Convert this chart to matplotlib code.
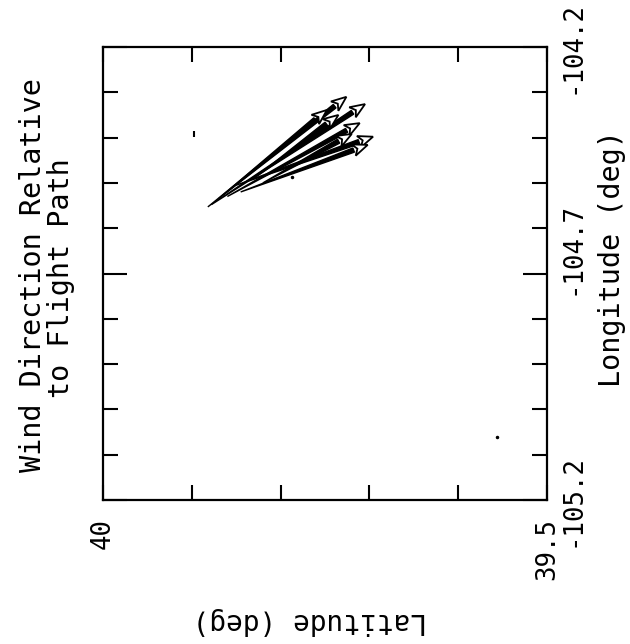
import numpy as np
import matplotlib
matplotlib.use("Agg")
import matplotlib.pyplot as plt
from matplotlib.transforms import ScaledTranslation

plt.rcParams['font.family'] = ['DejaVu Sans Mono']

# Axis ranges (chart is drawn rotated: latitude runs left->right, longitude bottom->top)
lat_range = (40.0, 39.5)
lon_range = (-105.2, -104.2)
lat_ticks = [40.0, 39.9, 39.8, 39.7, 39.6, 39.5]
lat_ticklabels = ['40', '', '', '', '', '39.5']
lon_major = [-105.2, -104.7, -104.2]
lon_majorlabels = ['-105.2', '-104.7', '-104.2']
lon_minor = [-105.1, -105.0, -104.9, -104.8, -104.6, -104.5, -104.4, -104.3]

# Wind arrows: start (lat, lon) and tip (lat, lon)
base_lat = [39.882, 39.878, 39.870, 39.860, 39.850, 39.845, 39.830, 39.820]
base_lon = [-104.553, -104.548, -104.535, -104.530, -104.505, -104.520, -104.490, -104.500]
tip_lat = [39.726, 39.705, 39.748, 39.711, 39.696, 39.702, 39.735, 39.720]
tip_lon = [-104.310, -104.326, -104.339, -104.368, -104.398, -104.416, -104.350, -104.392]

# stray marks on the plot
dash_lat, dash_lon = [39.8975], [-104.392]
dot_lat, dot_lon = [39.556, 39.787], [-105.061, -104.487]

fig = plt.figure(figsize=(6.3, 6.44), dpi=100)
ax = fig.add_axes([0.1635, 0.2236, 0.705, 0.7034])
ax.set_xlim(*lat_range)
ax.set_ylim(*lon_range)

for s in ax.spines.values():
    s.set_linewidth(1.6)

ax.set_xticks(lat_ticks)
ax.set_xticklabels(lat_ticklabels, rotation=90, va='top')
ax.yaxis.tick_right()
ax.set_yticks(lon_major)
ax.set_yticklabels(lon_majorlabels, rotation=90, va='center')
ax.set_yticks(lon_minor, minor=True)
ax.tick_params(axis='both', which='both', direction='in', top=True, bottom=True,
               left=True, right=True, width=1.5, labelsize=18.5)
ax.tick_params(axis='x', which='major', length=11, pad=13)
ax.tick_params(axis='y', which='major', length=17, pad=9)
ax.tick_params(axis='y', which='minor', length=11)

# the middle longitude label sits a little above its tick in the scan
mid = ax.yaxis.get_major_ticks()[1].label2
mid.set_transform(mid.get_transform() + ScaledTranslation(0, 0.25, fig.dpi_scale_trans))


def arrow_poly(b, t, shaft_w=2.2, head_len=15, head_w=6):
    p0 = ax.transData.transform(b)
    p1 = ax.transData.transform(t)
    d = p1 - p0
    u = d / np.hypot(*d)
    n = np.array([-u[1], u[0]])
    hb = p1 - u * head_len
    inv = ax.transData.inverted()
    shaft = inv.transform([p0, hb + n * shaft_w, hb - n * shaft_w])
    head = inv.transform([p1, hb + n * head_w, hb + u * 4, hb - n * head_w])
    return shaft, head


for bl, bo, tl, to in zip(base_lat, base_lon, tip_lat, tip_lon):
    shaft, head = arrow_poly((bl, bo), (tl, to))
    ax.fill(shaft[:, 0], shaft[:, 1], color='black', lw=1.0)
    ax.fill(head[:, 0], head[:, 1], facecolor='white', edgecolor='black', lw=1.3)

ax.plot(dash_lat, dash_lon, marker='|', color='black', ms=5, mew=1.5, ls='none')
ax.plot(dot_lat, dot_lon, marker='o', color='black', ms=1.5, ls='none')

# titles and axis labels (rotated like the scanned page)
fig.text(33 / 630, 1 - 275 / 644, 'Wind Direction Relative', rotation=90,
         ha='center', va='center', fontsize=20.5)
fig.text(61 / 630, 1 - 278 / 644, 'to Flight Path', rotation=90,
         ha='center', va='center', fontsize=20.5)
fig.text(612 / 630, 1 - 259 / 644, 'Longitude (deg)', rotation=90,
         ha='center', va='center', fontsize=20.5)
fig.text(310 / 630, 1 - 621 / 644, 'Latitude (deg)', rotation=180,
         ha='center', va='center', fontsize=20)

fig.savefig('out.png', dpi=100)
